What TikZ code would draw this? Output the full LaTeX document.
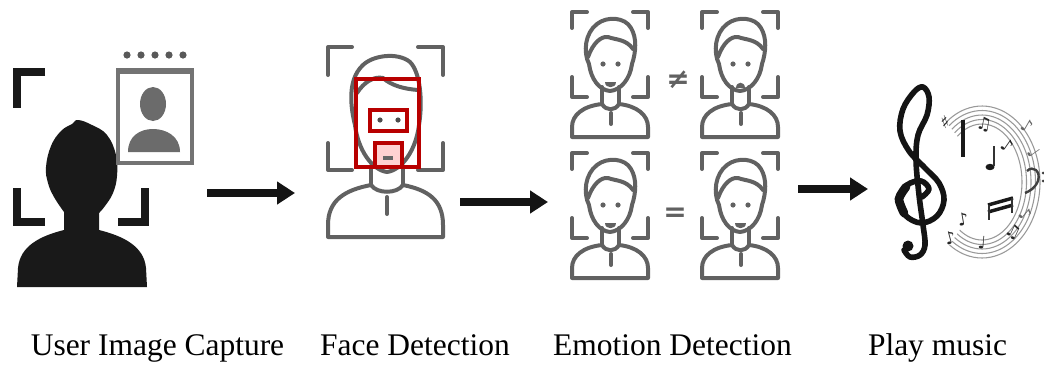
\documentclass[tikz,border=0pt]{standalone}
\usepackage{fontspec}
\setmainfont{Liberation Serif}
\newfontfamily\symfont{DejaVu Sans}
\usetikzlibrary{arrows.meta}

\tikzset{
  lbl/.style={font=\fontsize{23.6}{28}\selectfont, text=black, inner sep=0pt, anchor=base},
  flow/.style={line width=5.6pt, draw=black!92, -{Triangle[length=13.5pt,width=16.5pt]}},
  frame/.style={line width=6pt, draw=black!90},
  facepen/.style={line width=3pt, draw=black!62, line cap=round, line join=round},
  redpen/.style={line width=3pt, draw=red!72!black},
  cardpen/.style={line width=3pt, draw=black!55},
  staff/.style={line width=0.8pt, draw=black!40},
  note/.style={font=\symfont\fontsize{13}{13}\selectfont, text=black!85, inner sep=0pt},
  relsym/.style={font=\symfont\bfseries\fontsize{21}{21}\selectfont, text=black!62, inner sep=0pt},
  % outline man with framing corners, origin at top centre of the frame
  pics/manface/.style={code={
    \draw[facepen] (-24,0) -- (-39,0) -- (-39,16);
    \draw[facepen] (22,0) -- (37,0) -- (37,16);
    \draw[facepen] (-39,65) -- (-39,85) -- (-24,85);
    \draw[facepen] (37,65) -- (37,85) -- (22,85);
    \draw[facepen] (-22,52) .. controls (-28,40) and (-26,21) .. (-14,12)
      .. controls (-4,4) and (14,5) .. (20,16)
      .. controls (26,26) and (25,40) .. (21,52)
      .. controls (19,67) and (10,78) .. (-1,79)
      .. controls (-12,78) and (-20,67) .. (-22,52) -- cycle;
    \draw[facepen] (-23,45) .. controls (-18,31) and (-10,24) .. (-3,25)
      .. controls (5,28) and (15,27) .. (22,37);
    \fill[black!62] (-8,52) circle (2.6) (7,52) circle (2.6);
    \draw[facepen] (-9,75) -- (-9,92) (8,75) -- (8,92);
    \draw[facepen] (-9,92) .. controls (-28,94) and (-39,103) .. (-39,115)
      -- (-39,125) -- (37,125) -- (37,115)
      .. controls (37,103) and (26,94) .. (8,92);
    \draw[facepen] (-9,92) .. controls (-5,99) and (4,99) .. (8,92);
    \draw[facepen] (0,101) -- (0,112);
  }},
  pics/smile/.style={code={
    \fill[black!62] (-6,70) -- (5,70) .. controls (5,77) and (-6,77) .. (-6,70) -- cycle;
  }},
  pics/frown/.style={code={
    \fill[black!62] (-5,76) .. controls (-5,69) and (4,69) .. (4,76) -- cycle;
  }}
}

\begin{document}
\begin{tikzpicture}[x=0.75pt,y=-0.75pt]
\useasboundingbox (0,0) rectangle (1044,365);

% ---------- user image capture ----------
\draw[frame] (45,72) -- (17,72) -- (17,108);
\draw[frame] (17,188) -- (17,222) -- (45,222);
\draw[frame] (145,188) -- (145,222) -- (118,222);
\fill[black!90] (17,287) -- (18,268)
  .. controls (20,246) and (40,236) .. (64,230) -- (64,212)
  -- plot[smooth, tension=0.7] coordinates {(64,212) (54,197) (48,183) (46,167) (51,146) (61,131) (72,124) (78,120) (92,125) (107,135) (116,155) (117,176) (113,193) (105,206) (99,213)}
  -- (99,230) .. controls (123,236) and (144,246) .. (146,268) -- (147,287) -- cycle;
% photo card
\filldraw[cardpen, fill=white] (118,72) rectangle (192,163);
\draw[line width=5pt, draw=black!55] (116,71) -- (194,71);
\foreach \i in {0,...,4} \fill[black!65] (127+14*\i,55) circle (3.6);
\fill[black!58] (153,104) ellipse (13 and 17);
\fill[black!58] (128,152) .. controls (128,136) and (140,129) .. (153,129)
  .. controls (166,129) and (180,136) .. (180,152) -- cycle;
\node[inner sep=0pt, minimum width=130pt, minimum height=170pt] (capture) at (105,170) {};

% ---------- face detection ----------
\draw[facepen] (352,47) -- (328,47) -- (328,75);
\draw[facepen] (418,47) -- (443,47) -- (443,75);
\draw[facepen] (328,143) -- (328,170) -- (352,170);
\draw[facepen] (443,143) -- (443,170) -- (418,170);
\draw[facepen] (355,125) .. controls (350,105) and (348,80) .. (362,66)
  .. controls (372,55) and (398,52) .. (410,62)
  .. controls (420,72) and (423,100) .. (419,125)
  .. controls (416,150) and (402,170) .. (387,172)
  .. controls (372,170) and (358,150) .. (355,125) -- cycle;
\draw[facepen] (357,93) .. controls (364,82) and (374,76) .. (383,78)
  .. controls (392,86) and (405,89) .. (418,90);
\draw[facepen] (371,166) -- (371,185) (403,166) -- (403,185);
\draw[facepen] (371,185) .. controls (345,190) and (328,200) .. (328,225)
  -- (328,237) -- (443,237) -- (443,225)
  .. controls (443,200) and (428,190) .. (403,185);
\draw[facepen] (371,185) .. controls (377,194) and (397,194) .. (403,185);
\draw[facepen] (387,197) -- (387,214);
\fill[red!18] (375,143) rectangle (402,167);
\draw[redpen] (356,79) rectangle (419,167);
\draw[redpen] (370,110) rectangle (407,131);
\draw[redpen] (375,143) rectangle (402,167);
\fill[black!70] (380,120) circle (2.6) (398,120) circle (2.6);
\draw[line width=2.5pt, draw=black!60] (383,158) -- (393,158);
\node[inner sep=0pt, minimum width=90pt, minimum height=145pt] (face) at (385,142) {};

% ---------- emotion detection ----------
\pic at (611,12) {manface};  \pic at (611,12) {smile};
\pic at (741,12) {manface};  \pic at (741,12) {frown};
\pic at (611,153) {manface}; \pic at (611,153) {smile};
\pic at (741,153) {manface}; \pic at (741,153) {smile};
\node[relsym] (neq) at (678,80) {≠};
\node[relsym] (eq) at (675,215) {=};
\node[inner sep=0pt, minimum width=160pt, minimum height=205pt] (emotion) at (675,145) {};

% ---------- music ----------
\foreach \k in {0,...,4}
  \draw[staff] plot[smooth, domain=-128:124, samples=60, variable=\t]
    ({982+(40+4.5*\k)*cos(\t)}, {182+(58+4.5*\k)*sin(\t)});
% treble clef
\draw[line width=4.2pt, draw=black!92, line cap=round, line join=round]
  plot[smooth, tension=0.6] coordinates {(922,197) (929,189) (921,181) (907,185) (899,199) (905,215) (921,223) (937,216) (944,200) (939,183) (925,168) (909,151) (900,131) (903,109) (914,92) (923,87) (929,97) (927,115) (918,135) (916,160) (919,195) (923,225) (925,245) (920,255) (910,257) (904,250)};
\draw[line width=6.5pt, draw=black!92, line cap=round]
  plot[smooth] coordinates {(906,187) (899,199) (904,213)};
\fill[black!92] (908,246) circle (5.5);
% notes along the staff
\node[note, rotate=20] (m1) at (945,122) {♯};
\draw[line width=3.5pt, draw=black!90] (963,120) -- (963,157);
\node[note, rotate=-10] (m2) at (984,124) {♫};
\node[note, rotate=-35] (m3) at (1008,146) {♪};
\node[note, rotate=-30, text=black!60] (m4) at (1027,126) {♪};
\node[note, rotate=-55, text=black!60] (m5) at (1034,152) {♩};
\fill[black!90] (990,167) ellipse (4.5 and 3.2);
\draw[line width=1pt, draw=black!80] (994,166) -- (994,146);
\draw[line width=2.6pt, draw=black!90] (988,205) -- (1013,198) (988,212) -- (1013,205);
\draw[line width=1pt, draw=black!80] (989,205) -- (989,220) (1012,198) -- (1012,213);
\draw[line width=1.8pt, draw=black!75] (1027,171) .. controls (1033,165) and (1041,171) .. (1038,181)
  .. controls (1035,188) and (1030,191) .. (1025,193);
\fill[black!75] (1043,173) circle (1.5) (1043,181) circle (1.5);
\node[note, rotate=15] (m6) at (950,238) {♪};
\node[note, rotate=10] (m7) at (963,219) {♪};
\node[note, rotate=-5] (m8) at (982,243) {♩};
\node[note, rotate=-25] (m9) at (1013,232) {♫};
\node[note, rotate=-40, text=black!60] (m10) at (1026,214) {♪};
\node[inner sep=0pt, minimum width=110pt, minimum height=130pt] (music) at (965,172) {};

% ---------- flow arrows ----------
\coordinate (a1) at (207,193); \coordinate (b1) at (295,193);
\coordinate (a2) at (460,202); \coordinate (b2) at (548,202);
\coordinate (a3) at (798,189); \coordinate (b3) at (868,189);
\draw[flow] (a1) -- (b1);
\draw[flow] (a2) -- (b2);
\draw[flow] (a3) -- (b3);

% ---------- captions ----------
\node[lbl] (t1) at (157.5,355) {User Image Capture};
\node[lbl] (t2) at (415,355) {Face Detection};
\node[lbl] (t3) at (672.5,355) {Emotion Detection};
\node[lbl] (t4) at (937.5,355) {Play music};
\end{tikzpicture}
\end{document}
